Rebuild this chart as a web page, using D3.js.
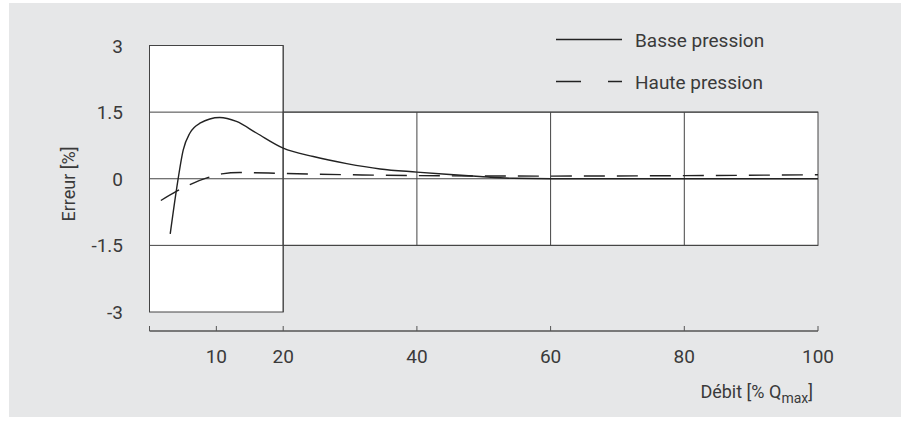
<!DOCTYPE html>
<html>
<head>
<meta charset="utf-8">
<script src="https://cdn.jsdelivr.net/npm/d3@7"></script>
<style>
body { margin: 0; background: #fff; }
text { font-family: Roboto, "Open Sans", sans-serif; fill: #3a3a3a; }
</style>
</head>
<body>
<div id="chart"></div>
<script>
var w = 910, h = 423;

// data
var xTicks = [10, 20, 40, 60, 80, 100];
var xTickMarks = [0, 10, 20, 40, 60, 80, 100];
var yTicks = [3, 1.5, 0, -1.5, -3];
var yTickLabels = ["3", "1.5", "0", "-1.5", "-3"];
var gridX = [40, 60, 80];
var gridY = [1.5, 0, -1.5];

var basseX = [3.1, 4.07, 5.05, 6.05, 7.55, 10.5, 13, 16, 20, 24.5, 29.5, 34.5, 40, 44.4, 49.4, 54.4, 60, 80, 100];
var basseY = [-1.24, -0.21, 0.65, 1.03, 1.25, 1.38, 1.29, 1.03, 0.69, 0.5, 0.34, 0.22, 0.15, 0.1, 0.05, 0.01, 0, 0, 0];

var hauteX = [1.7, 4.07, 6.05, 8.8, 10.8, 13.5, 20, 30, 40, 60, 80, 100];
var hauteY = [-0.49, -0.28, -0.13, 0.03, 0.11, 0.14, 0.12, 0.09, 0.07, 0.06, 0.07, 0.09];

var legendNames = ["Basse pression", "Haute pression"];

var svg = d3.select("#chart")
	.append("svg")
	.attr("width", w)
	.attr("height", h);

svg.append("rect")
	.attr("x", 9).attr("y", 3)
	.attr("width", 892).attr("height", 414)
	.attr("fill", "#e6e7e8");

var x = d3.scaleLinear().domain([0, 100]).range([149.5, 818]);
var y = d3.scaleLinear().domain([-3, 3]).range([312, 45.5]);

var stroke = "#444";

// white panels
svg.append("rect")
	.attr("x", x(0)).attr("y", y(3))
	.attr("width", x(20) - x(0)).attr("height", y(-3) - y(3))
	.attr("fill", "#fff").attr("stroke", stroke).attr("stroke-width", 1);

svg.append("rect")
	.attr("x", x(20)).attr("y", y(1.5))
	.attr("width", x(100) - x(20)).attr("height", y(-1.5) - y(1.5))
	.attr("fill", "#fff").attr("stroke", stroke).attr("stroke-width", 1);

svg.selectAll(".gy").data(gridY).enter().append("line")
	.attr("x1", x(0)).attr("x2", x(100))
	.attr("y1", function(d) { return y(d); })
	.attr("y2", function(d) { return y(d); })
	.attr("stroke", stroke).attr("stroke-width", 1);

svg.selectAll(".gx").data(gridX).enter().append("line")
	.attr("x1", function(d) { return x(d); })
	.attr("x2", function(d) { return x(d); })
	.attr("y1", y(1.5)).attr("y2", y(-1.5))
	.attr("stroke", stroke).attr("stroke-width", 1);

svg.append("line")
	.attr("x1", x(20)).attr("x2", x(20))
	.attr("y1", y(3)).attr("y2", y(-3))
	.attr("stroke", stroke).attr("stroke-width", 1);

// curves
var line = d3.line()
	.x(function(d) { return x(d[0]); })
	.y(function(d) { return y(d[1]); })
	.curve(d3.curveMonotoneX);

var basse = d3.zip(basseX, basseY);
var haute = d3.zip(hauteX, hauteY);

svg.append("path")
	.attr("d", line(haute))
	.attr("fill", "none")
	.attr("stroke", "#222")
	.attr("stroke-width", 1.4)
	.attr("stroke-dasharray", "21,12");

svg.append("path")
	.attr("d", line(basse))
	.attr("fill", "none")
	.attr("stroke", "#222")
	.attr("stroke-width", 1.4);

// x axis
var axY = 331;
svg.append("line")
	.attr("x1", x(0)).attr("x2", x(100))
	.attr("y1", axY).attr("y2", axY)
	.attr("stroke", "#555").attr("stroke-width", 1.5);

svg.selectAll(".xt").data(xTickMarks).enter().append("line")
	.attr("x1", function(d) { return x(d); })
	.attr("x2", function(d) { return x(d); })
	.attr("y1", axY).attr("y2", axY - 5)
	.attr("stroke", "#555").attr("stroke-width", 1);

svg.selectAll(".xl").data(xTicks).enter().append("text")
	.text(function(d) { return d; })
	.attr("x", function(d) { return x(d); })
	.attr("y", 363)
	.attr("text-anchor", "middle")
	.attr("font-size", 19);

var xt = svg.append("text")
	.attr("x", 813)
	.attr("y", 398)
	.attr("text-anchor", "end")
	.attr("font-size", 18);
xt.append("tspan").text("Débit [% Q");
xt.append("tspan").text("max").attr("font-size", 14).attr("dy", 5);
xt.append("tspan").text("]").attr("dy", -5);

// y labels
svg.selectAll(".yl").data(yTicks).enter().append("text")
	.text(function(d, i) { return yTickLabels[i]; })
	.attr("x", 123)
	.attr("y", function(d) { return y(d) + 7; })
	.attr("text-anchor", "end")
	.attr("font-size", 19);

svg.append("text")
	.text("Erreur [%]")
	.attr("transform", "translate(75,184) rotate(-90)")
	.attr("text-anchor", "middle")
	.attr("font-size", 18);

// legend
svg.append("line")
	.attr("x1", 556).attr("x2", 622)
	.attr("y1", 39.5).attr("y2", 39.5)
	.attr("stroke", "#222").attr("stroke-width", 1.4);

svg.append("line")
	.attr("x1", 556).attr("x2", 622)
	.attr("y1", 81.5).attr("y2", 81.5)
	.attr("stroke", "#222").attr("stroke-width", 1.4)
	.attr("stroke-dasharray", "25,27");

svg.selectAll(".lg").data(legendNames).enter().append("text")
	.text(function(d) { return d; })
	.attr("x", 635)
	.attr("y", function(d, i) { return 47 + i * 42; })
	.attr("font-size", 19);
</script>
</body>
</html>
